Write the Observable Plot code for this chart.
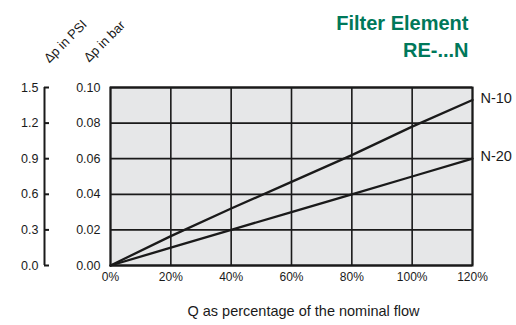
<!DOCTYPE html>
<html><head><meta charset="utf-8">
<script src="https://cdn.jsdelivr.net/npm/d3@7"></script>
<script src="https://cdn.jsdelivr.net/npm/@observablehq/plot@0.6"></script>
<style>body{margin:0;background:#fff}</style>
</head><body><div id="chart"></div>
<script>
const flow = [0, 20, 40, 60, 80, 100, 120];
const n10 = [0, 0.0165, 0.032, 0.047, 0.062, 0.078, 0.093];
const n20 = [0, 0.01, 0.02, 0.03, 0.04, 0.05, 0.06];
const seriesNames = ["N-10", "N-20"];
const barTicks = [0, 0.02, 0.04, 0.06, 0.08, 0.10];
const psiLabels = ["0.0", "0.3", "0.6", "0.9", "1.2", "1.5"];
const titleLines = ["Filter Element", "RE-...N"];
const xLabel = "Q as percentage of the nominal flow";
const psiTitle = "Δp in PSI";
const barTitle = "Δp in bar";

const series = [n10, n20];
const rows = [];
seriesNames.forEach((name, s) => flow.forEach((q, i) => rows.push({name, q, v: series[s][i]})));
const ends = seriesNames.map((name, s) => ({name, q: flow[flow.length - 1], v: series[s][series[s].length - 1]}));

const FONT = "'Liberation Sans', Arial, sans-serif";
const INK = "#1a1a1a";

const chart = Plot.plot({
  width: 516,
  height: 325,
  marginLeft: 110,
  marginRight: 44,
  marginTop: 87,
  marginBottom: 60,
  style: {fontFamily: FONT, color: INK, background: "#fff"},
  x: {domain: [0, 120]},
  y: {domain: [0, 0.1]},
  marks: [
    Plot.frame({fill: "#e6e7e8", stroke: null}),
    Plot.ruleX(flow, {stroke: INK, strokeWidth: 1.6}),
    Plot.ruleY(barTicks, {stroke: INK, strokeWidth: 1.8}),
    Plot.line(rows, {x: "q", y: "v", z: "name", stroke: INK, strokeWidth: 2.3}),
    Plot.frame({stroke: INK, strokeWidth: 2}),
    Plot.axisX({ticks: flow, tickFormat: d => d + "%", tickSize: 0, tickPadding: 7, fontSize: 12, label: null}),
    Plot.axisY({ticks: barTicks, tickFormat: d3.format(".2f"), tickSize: 0, tickPadding: 10, fontSize: 12.5, label: null}),
    Plot.axisY({ticks: barTicks, tickFormat: d => psiLabels[barTicks.indexOf(d)], tickSize: -5, tickPadding: 11, dx: -66, strokeWidth: 2, stroke: INK, fontSize: 12.5, label: null}),
    Plot.ruleX([flow[0]], {y1: barTicks[0], y2: barTicks[barTicks.length - 1], dx: -66, stroke: INK, strokeWidth: 2}),
    Plot.text(ends, {x: "q", y: "v", text: "name", dx: 8, dy: -2, textAnchor: "start", fontSize: 14.5, fill: INK}),
    Plot.text([xLabel], {text: d => d, frameAnchor: "bottom", dx: 12, dy: 50, fontSize: 14.5, fill: INK}),
    Plot.text([psiTitle], {text: d => d, frameAnchor: "top-left", dx: -45, dy: -46, rotate: -45, textAnchor: "middle", lineAnchor: "middle", fontSize: 13, fill: INK}),
    Plot.text([barTitle], {text: d => d, frameAnchor: "top-left", dx: -6, dy: -46, rotate: -45, textAnchor: "middle", lineAnchor: "middle", fontSize: 13, fill: INK}),
    Plot.text([titleLines[0]], {text: d => d, frameAnchor: "top-right", dx: -4, dy: -58, lineAnchor: "bottom", textAnchor: "end", fontSize: 20, fontWeight: "bold", fill: "#00785a"}),
    Plot.text([titleLines[1]], {text: d => d, frameAnchor: "top-right", dx: -4, dy: -31, lineAnchor: "bottom", textAnchor: "end", fontSize: 20, fontWeight: "bold", fill: "#00785a"})
  ]
});
document.getElementById("chart").appendChild(chart);
</script>
</body></html>
